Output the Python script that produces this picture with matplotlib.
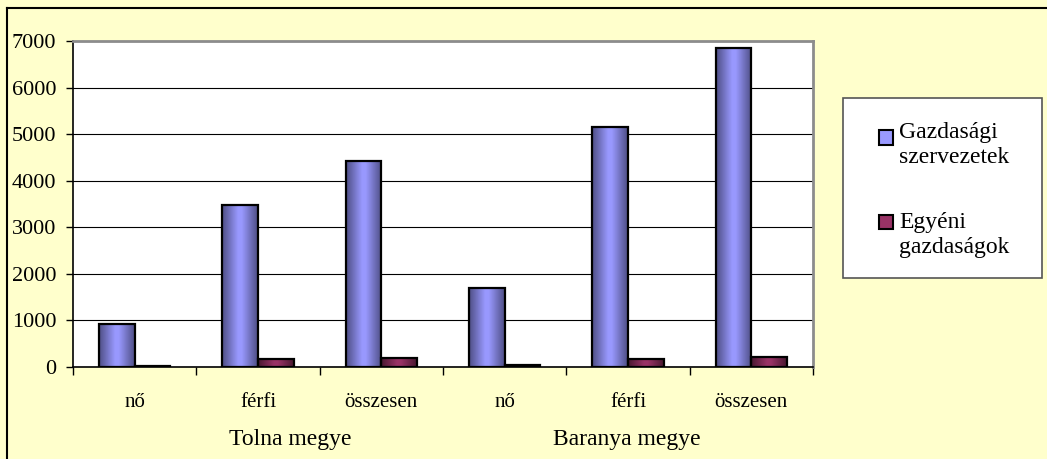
import numpy as np
import matplotlib
matplotlib.use("Agg")
import matplotlib.pyplot as plt
import matplotlib.transforms as mtransforms
from matplotlib.colors import LinearSegmentedColormap
from matplotlib.patches import Rectangle
from matplotlib.lines import Line2D

# ---- data ----
categories = ["nő", "férfi", "összesen", "nő", "férfi", "összesen"]
groups = ["Tolna megye", "Baranya megye"]
series_names = ["Gazdasági\nszervezetek", "Egyéni\ngazdaságok"]
gazdasagi = [930, 3480, 4420, 1700, 5150, 6860]
egyeni = [20, 170, 190, 40, 170, 220]

W, H = 1047, 459
plt.rcParams['font.family'] = ['Liberation Serif', 'DejaVu Serif']
bg = "#FFFFCC"
fig = plt.figure(figsize=(W / 100, H / 100), dpi=100, facecolor=bg)

def fx(px):
    return px / W

def fy(py):
    return 1 - py / H

ax = fig.add_axes([fx(73), fy(367), fx(813) - fx(73), fy(41) - fy(367)])
ax.set_facecolor("white")

x = np.arange(len(categories))
bw = 0.29
light_b, dark_b = "#9999FF", "#4F4F86"
light_m, dark_m = "#993366", "#4A1831"

bars1 = ax.bar(x - bw / 2, gazdasagi, bw, color="none", edgecolor="black", linewidth=1.6, zorder=3)
bars2 = ax.bar(x + bw / 2, egyeni, bw, color="none", edgecolor="black", linewidth=1.6, zorder=3)

def shade(bars, light, dark):
    cmap = LinearSegmentedColormap.from_list("g", [(0, dark), (0.45, light), (0.55, light), (1, dark)])
    grad = np.linspace(0, 1, 64).reshape(1, -1)
    for p in bars:
        x0, w, h = p.get_x(), p.get_width(), p.get_height()
        im = ax.imshow(grad, cmap=cmap, extent=[x0, x0 + w, 0, h], aspect="auto",
                       origin="lower", zorder=2, interpolation="bicubic")
        im.set_clip_path(p)

shade(bars1, light_b, dark_b)
shade(bars2, light_m, dark_m)

ax.set_xlim(-0.5, len(categories) - 0.5)
ax.set_ylim(0, 7000)
ax.set_yticks(np.arange(0, 7001, 1000))
ax.yaxis.grid(True, color="black", linewidth=0.8, zorder=1)
ax.set_axisbelow(True)

ax.set_xticks(np.arange(-0.5, len(categories) + 0.5, 1.0))
ax.set_xticklabels([])
ax.set_xticks(x, minor=True)
ax.set_xticklabels(categories, minor=True, fontsize=15)
ax.tick_params(axis="x", which="major", length=6, width=1, direction="out", color="black")
ax.tick_params(axis="x", which="minor", length=0, pad=19)
ax.tick_params(axis="y", length=5, width=1, direction="out", pad=7, labelsize=16)

for s in ["left", "bottom"]:
    ax.spines[s].set_color("black")
    ax.spines[s].set_linewidth(1.2)
for s in ["top", "right"]:
    ax.spines[s].set_color("#8C8C8C")
    ax.spines[s].set_linewidth(2)

# group labels
group_pos = [1.26, 3.99]
gtrans = mtransforms.blended_transform_factory(ax.transData, fig.transFigure)
for g, gx in zip(groups, group_pos):
    ax.text(gx, fy(445), g, transform=gtrans, fontsize=17, ha="center", va="baseline")

# figure border (left & top)
fig.add_artist(Line2D([fx(7), fx(7)], [fy(8), 0], color="black", linewidth=1.5, transform=fig.transFigure))
fig.add_artist(Line2D([fx(7), 1], [fy(8), fy(8)], color="black", linewidth=1.5, transform=fig.transFigure))

# legend (manual)
fig.add_artist(Rectangle((fx(843), fy(278)), fx(1042) - fx(843), fy(98) - fy(278),
                         transform=fig.transFigure, facecolor="white", edgecolor="#555555", linewidth=1.2))
leg_colors = [light_b, light_m]
leg_baseline = [138, 228]
leg_box = [(130, 145), (215, 229)]
for name, c, bl, (bt, bb) in zip(series_names, leg_colors, leg_baseline, leg_box):
    fig.add_artist(Rectangle((fx(879), fy(bb)), fx(893) - fx(879), fy(bt) - fy(bb),
                             transform=fig.transFigure, facecolor=c, edgecolor="black", linewidth=1.5))
    for i, line in enumerate(name.split("\n")):
        fig.text(fx(899), fy(bl + 25 * i), line, fontsize=17, ha="left", va="baseline")

fig.savefig("out.png", dpi=100, facecolor=bg)
